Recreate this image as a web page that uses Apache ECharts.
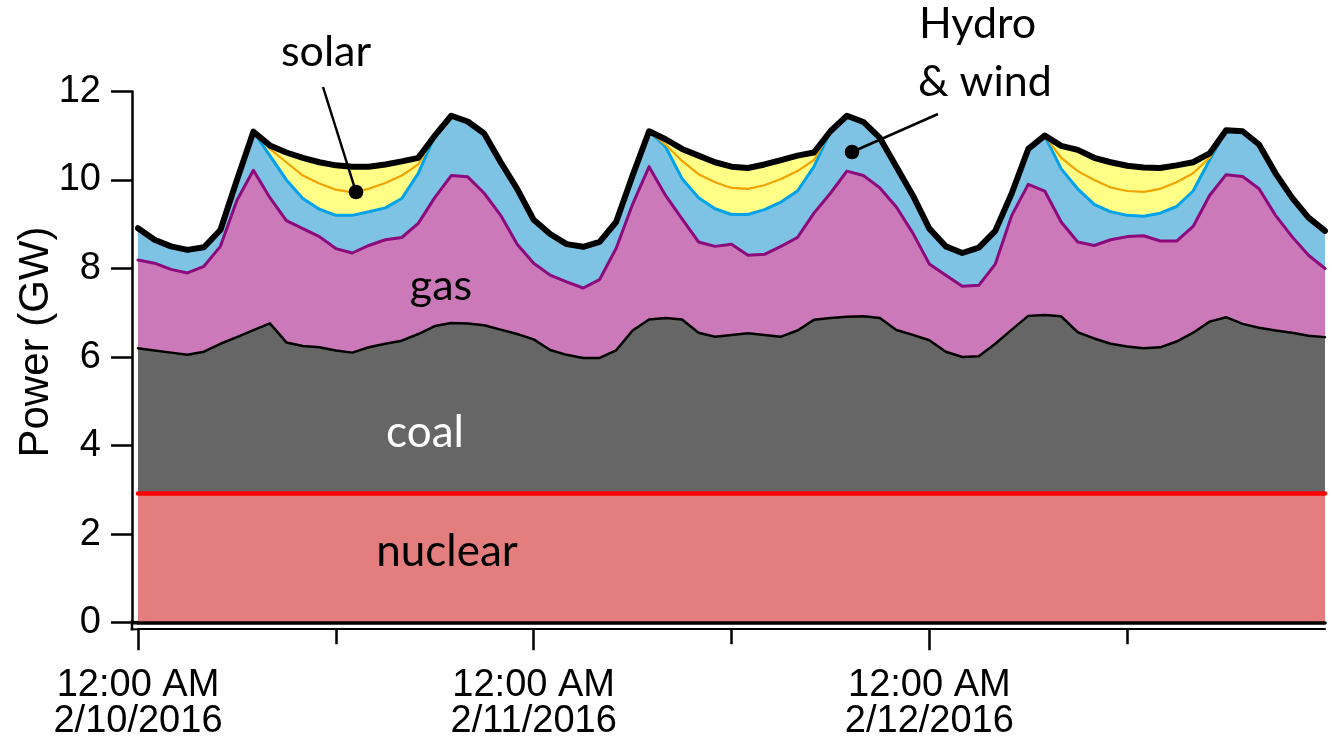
<!DOCTYPE html>
<html>
<head>
<meta charset="utf-8">
<script src="https://cdn.jsdelivr.net/npm/echarts@6/dist/echarts.min.js"></script>
<style>
  html, body { margin: 0; padding: 0; background: #ffffff; }
  #chart { width: 1332px; height: 746px; }
</style>
</head>
<body>
<div id="chart"></div>
<script>
// Hours since 12:00 AM on 2/10/2016
const hours = [
  0, 1, 2, 3, 4, 5, 6, 7, 8, 9, 10, 11, 12, 13, 14, 15, 16, 17, 18, 19, 20, 21, 22, 23,
  24, 25, 26, 27, 28, 29, 30, 31, 32, 33, 34, 35, 36, 37, 38, 39, 40, 41, 42, 43, 44, 45, 46, 47,
  48, 49, 50, 51, 52, 53, 54, 55, 56, 57, 58, 59, 60, 61, 62, 63, 64, 65, 66, 67, 68, 69, 70, 71,
  72
];

// Cumulative generation levels (GW): each array is the top edge of a layer
const nuclearTop = [
  2.92, 2.92, 2.92, 2.92, 2.92, 2.92, 2.92, 2.92, 2.92, 2.92, 2.92, 2.92, 2.92, 2.92, 2.92, 2.92, 2.92, 2.92, 2.92, 2.92, 2.92, 2.92, 2.92, 2.92,
  2.92, 2.92, 2.92, 2.92, 2.92, 2.92, 2.92, 2.92, 2.92, 2.92, 2.92, 2.92, 2.92, 2.92, 2.92, 2.92, 2.92, 2.92, 2.92, 2.92, 2.92, 2.92, 2.92, 2.92,
  2.92, 2.92, 2.92, 2.92, 2.92, 2.92, 2.92, 2.92, 2.92, 2.92, 2.92, 2.92, 2.92, 2.92, 2.92, 2.92, 2.92, 2.92, 2.92, 2.92, 2.92, 2.92, 2.92, 2.92,
  2.92
];
const coalTop = [
  6.2, 6.15, 6.1, 6.05, 6.12, 6.3, 6.45, 6.61, 6.76, 6.33, 6.25, 6.22, 6.15, 6.1, 6.22, 6.3, 6.37, 6.52, 6.7, 6.77, 6.76, 6.72, 6.62, 6.52,
  6.4, 6.16, 6.05, 5.98, 5.98, 6.15, 6.6, 6.85, 6.88, 6.85, 6.55, 6.46, 6.5, 6.54, 6.5, 6.46, 6.6, 6.84, 6.88, 6.91, 6.92, 6.88, 6.61, 6.5,
  6.38, 6.12, 6.0, 6.02, 6.3, 6.62, 6.93, 6.95, 6.92, 6.56, 6.42, 6.3, 6.24, 6.2, 6.22, 6.35, 6.55, 6.8, 6.9, 6.75, 6.66, 6.6, 6.55, 6.48,
  6.45
];
const gasTop = [
  8.19, 8.12, 7.98, 7.9, 8.05, 8.5, 9.54, 10.22, 9.6, 9.08, 8.9, 8.72, 8.45, 8.35, 8.52, 8.65, 8.7, 9.02, 9.6, 10.1, 10.07, 9.7, 9.2, 8.55,
  8.12, 7.85, 7.7, 7.56, 7.75, 8.45, 9.45, 10.3, 9.65, 9.12, 8.6, 8.5, 8.55, 8.3, 8.32, 8.5, 8.7, 9.25, 9.7, 10.2, 10.1, 9.82, 9.39, 8.8,
  8.1, 7.85, 7.6, 7.62, 8.1, 9.2, 9.9, 9.75, 9.05, 8.6, 8.52, 8.65, 8.72, 8.74, 8.62, 8.62, 8.95, 9.65, 10.12, 10.08, 9.8, 9.2, 8.72, 8.3,
  8.0
];
const hydroWindTop = [
  8.91, 8.65, 8.5, 8.42, 8.48, 8.87, 10.0, 11.09, 10.55, 10.0, 9.58, 9.34, 9.2, 9.2, 9.28, 9.37, 9.58, 10.15, 11.0, 11.45, 11.32, 11.05, 10.4, 9.8,
  9.1, 8.78, 8.55, 8.49, 8.6, 9.05, 10.1, 11.1, 10.75, 10.03, 9.6, 9.35, 9.22, 9.22, 9.33, 9.5, 9.75, 10.3, 11.1, 11.45, 11.31, 10.95, 10.3, 9.65,
  8.9, 8.5, 8.35, 8.47, 8.85, 9.7, 10.7, 11.0, 10.25, 9.8, 9.45, 9.28, 9.2, 9.18, 9.25, 9.4, 9.75, 10.45, 11.12, 11.1, 10.8, 10.15, 9.6, 9.15,
  8.85
];
const solarSplit = [
  8.91, 8.65, 8.5, 8.42, 8.48, 8.87, 10.0, 11.09, 10.7, 10.4, 10.1, 9.92, 9.78, 9.72, 9.8, 9.93, 10.1, 10.35, 11.0, 11.45, 11.32, 11.05, 10.4, 9.8,
  9.1, 8.78, 8.55, 8.49, 8.6, 9.05, 10.1, 11.1, 10.8, 10.43, 10.13, 9.95, 9.82, 9.8, 9.88, 10.02, 10.2, 10.45, 11.1, 11.45, 11.31, 10.95, 10.3, 9.65,
  8.9, 8.5, 8.35, 8.47, 8.85, 9.7, 10.7, 11.0, 10.5, 10.2, 10.0, 9.83, 9.75, 9.73, 9.8, 9.95, 10.15, 10.5, 11.12, 11.1, 10.8, 10.15, 9.6, 9.15,
  8.85
];
const totalLoad = [
  8.91, 8.65, 8.5, 8.42, 8.48, 8.87, 10.0, 11.09, 10.78, 10.62, 10.5, 10.4, 10.33, 10.3, 10.3, 10.35, 10.42, 10.5, 11.0, 11.45, 11.32, 11.05, 10.4, 9.8,
  9.1, 8.78, 8.55, 8.49, 8.6, 9.05, 10.1, 11.1, 10.92, 10.7, 10.55, 10.4, 10.3, 10.27, 10.35, 10.45, 10.55, 10.62, 11.1, 11.45, 11.31, 10.95, 10.3, 9.65,
  8.9, 8.5, 8.35, 8.47, 8.85, 9.7, 10.7, 11.0, 10.77, 10.68, 10.5, 10.4, 10.32, 10.28, 10.27, 10.33, 10.4, 10.6, 11.12, 11.1, 10.8, 10.15, 9.6, 9.15,
  8.85
];

// Axis ticks and labels
const yTicks = [0, 2, 4, 6, 8, 10, 12];
const dayTicks = [0, 24, 48];
const dayLabels = ['12:00 AM\n2/10/2016', '12:00 AM\n2/11/2016', '12:00 AM\n2/12/2016'];
const noonTicks = [12, 36, 60];

const AXIS_FONT = 'Liberation Sans, Arial, sans-serif';
const NOTE_FONT = 'Lato, Carlito, Calibri, sans-serif';

function pairs(values) {
  return hours.map((h, i) => [h, values[i]]);
}

// Filled layer drawn from zero; later layers cover the lower part of earlier ones
function layer(name, values, color, z) {
  return {
    name: name, type: 'line', data: pairs(values), z: z,
    symbol: 'none', silent: true, smooth: false,
    lineStyle: { width: 0, opacity: 0 },
    areaStyle: { color: color, opacity: 1, origin: 0 }
  };
}

// Boundary line of a layer
function edge(name, values, color, width, z) {
  return {
    name: name, type: 'line', data: pairs(values), z: z,
    symbol: 'none', silent: true, smooth: false, clip: false,
    lineStyle: { color: color, width: width, cap: 'round', join: 'round' }
  };
}

const chart = echarts.init(document.getElementById('chart'), null, { renderer: 'canvas' });

const timeAxisBase = { type: 'value', min: 0, max: 72, position: 'bottom', splitLine: { show: false } };

const option = {
  animation: false,
  backgroundColor: '#ffffff',
  grid: { left: 138, right: 7, top: 91.4, bottom: 123.3, containLabel: false },
  xAxis: [
    // standoff time axis with day labels
    Object.assign({}, timeAxisBase, {
      offset: 6.5, z: 20,
      axisLine: { show: true, onZero: false, lineStyle: { color: '#000', width: 2 } },
      axisTick: { show: true, inside: false, length: 21, customValues: dayTicks, lineStyle: { color: '#000', width: 2.5 } },
      axisLabel: {
        show: true, customValues: dayTicks, margin: 38,
        color: '#000', fontSize: 38, lineHeight: 36, fontFamily: AXIS_FONT, align: 'center',
        formatter: function (v) {
          const i = dayTicks.indexOf(v);
          return i >= 0 ? dayLabels[i] : '';
        }
      }
    }),
    // noon ticks
    Object.assign({}, timeAxisBase, {
      offset: 6.5, z: 20,
      axisLine: { show: false, onZero: false },
      axisTick: { show: true, inside: false, length: 15, customValues: noonTicks, lineStyle: { color: '#000', width: 2.5 } },
      axisLabel: { show: false }
    }),
    // heavy zero line along the base of the stack
    Object.assign({}, timeAxisBase, {
      offset: 0, z: 20,
      axisLine: { show: true, onZero: false, lineStyle: { color: '#000', width: 3.6 } },
      axisTick: { show: false },
      axisLabel: { show: false }
    })
  ],
  yAxis: {
    type: 'value', min: yTicks[0], max: yTicks[yTicks.length - 1], interval: 2, offset: 6,
    axisLine: { show: true, onZero: false, lineStyle: { color: '#000', width: 2.5 } },
    axisTick: { show: true, inside: false, length: 21, lineStyle: { color: '#000', width: 2.5 } },
    axisLabel: { color: '#000', fontSize: 38, fontFamily: AXIS_FONT, margin: 31 },
    splitLine: { show: false }
  },
  series: [
    layer('solar', totalLoad, '#FFFF88', 1),
    layer('Hydro & wind', hydroWindTop, '#7EC2E4', 2),
    layer('gas', gasTop, '#CB79B8', 3),
    layer('coal', coalTop, '#666666', 4),
    layer('nuclear', nuclearTop, '#E47D7D', 5),
    edge('coal edge', coalTop, '#000000', 2.5, 6),
    edge('nuclear edge', nuclearTop, '#FF0000', 4.5, 7),
    edge('gas edge', gasTop, '#8C0A7C', 3, 8),
    edge('hydro edge', hydroWindTop, '#00A3EA', 3, 9),
    edge('solar split', solarSplit, '#F2A300', 2.2, 10),
    edge('total', totalLoad, '#000000', 6, 11)
  ],
  graphic: [
    // axis title
    {
      type: 'text', x: 36, y: 342, rotation: Math.PI / 2, z: 20,
      style: { text: 'Power (GW)', fontSize: 42, fontFamily: AXIS_FONT, fill: '#000', align: 'center', verticalAlign: 'middle' }
    },
    // corner where the two standoff axis lines meet, and the start of the zero line
    { type: 'rect', shape: { x: 131, y: 620.9, width: 7.5, height: 3.6 }, style: { fill: '#000' }, z: 20 },
    { type: 'line', shape: { x1: 130.7, y1: 629.3, x2: 139, y2: 629.3 }, style: { stroke: '#000', lineWidth: 2 }, z: 20 },
    { type: 'line', shape: { x1: 132, y1: 620, x2: 132, y2: 630.3 }, style: { stroke: '#000', lineWidth: 2.5 }, z: 20 },
    // layer names
    { type: 'text', x: 326, y: 52, z: 20, style: { text: 'solar', fontSize: 43, fontFamily: NOTE_FONT, fill: '#000', align: 'center', verticalAlign: 'middle' } },
    { type: 'text', x: 441, y: 286, z: 20, style: { text: 'gas', fontSize: 43, fontFamily: NOTE_FONT, fill: '#000', align: 'center', verticalAlign: 'middle' } },
    { type: 'text', x: 425, y: 433, z: 20, style: { text: 'coal', fontSize: 44, fontFamily: NOTE_FONT, fill: '#ffffff', align: 'center', verticalAlign: 'middle' } },
    { type: 'text', x: 447, y: 552, z: 20, style: { text: 'nuclear', fontSize: 44, fontFamily: NOTE_FONT, fill: '#000', align: 'center', verticalAlign: 'middle' } },
    { type: 'text', x: 919, y: 24, z: 20, style: { text: 'Hydro', fontSize: 43, fontFamily: NOTE_FONT, fill: '#000', align: 'left', verticalAlign: 'middle' } },
    { type: 'text', x: 918, y: 82, z: 20, style: { text: '& wind', fontSize: 43, fontFamily: NOTE_FONT, fill: '#000', align: 'left', verticalAlign: 'middle' } },
    // leader lines with end dots
    { type: 'line', shape: { x1: 323, y1: 87, x2: 356, y2: 192 }, style: { stroke: '#000', lineWidth: 2.5 }, z: 20 },
    { type: 'circle', shape: { cx: 356, cy: 192, r: 7.3 }, style: { fill: '#000' }, z: 20 },
    { type: 'line', shape: { x1: 938, y1: 114, x2: 852, y2: 152 }, style: { stroke: '#000', lineWidth: 2.5 }, z: 20 },
    { type: 'circle', shape: { cx: 852, cy: 152, r: 7.3 }, style: { fill: '#000' }, z: 20 }
  ]
};

chart.setOption(option);
</script>
</body>
</html>
